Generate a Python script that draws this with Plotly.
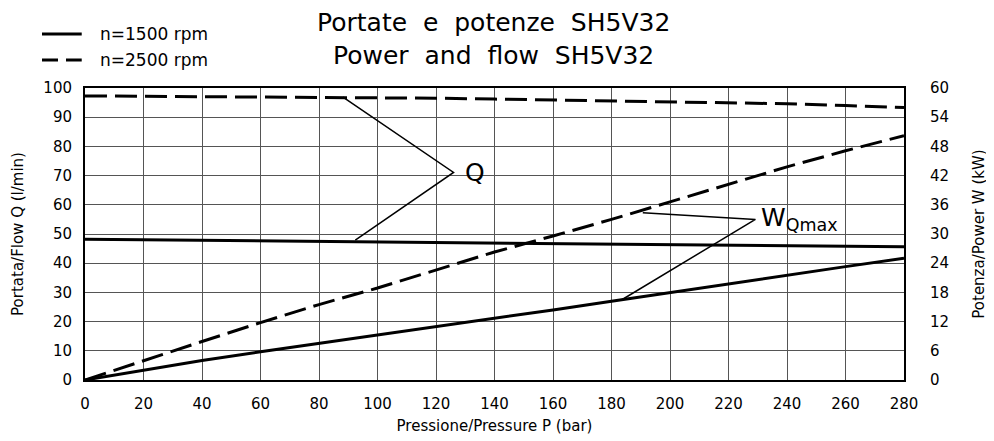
import plotly.graph_objects as go

# ---- data ----
pressure = [0, 20, 40, 60, 80, 100, 120, 140, 160, 180, 200, 220, 240, 260, 280]
q_1500 = [48.2, 48.0, 47.9, 47.7, 47.5, 47.4, 47.2, 47.0, 46.8, 46.6, 46.4, 46.2, 46.0, 45.8, 45.6]
q_2500 = [97.3, 97.2, 97.1, 97.0, 96.9, 96.7, 96.5, 96.2, 95.9, 95.6, 95.3, 95.0, 94.6, 94.0, 93.3]
w_1500 = [0, 2.0, 4.0, 5.8, 7.5, 9.2, 10.9, 12.7, 14.4, 16.2, 18.0, 19.8, 21.6, 23.3, 25.0]
w_2500 = [0, 4.0, 7.9, 11.8, 15.5, 18.9, 22.6, 26.3, 29.6, 33.0, 36.6, 40.2, 43.8, 47.1, 50.2]

x_ticks = list(range(0, 281, 20))
q_ticks = list(range(0, 101, 10))
w_ticks = list(range(0, 61, 6))

title_lines = ["Portate&nbsp; e&nbsp; potenze&nbsp; SH5V32", "Power&nbsp; and&nbsp; flow&nbsp; SH5V32"]
legend_names = ["n=1500 rpm", "n=2500 rpm"]

# annotation leader lines (pressure, flow units)
q_leader_x = [88.2, 126.0, 92.4]
q_leader_y = [96.9, 71.1, 47.9]
w_leader_x = [190.7, 229.2, 183.4]
w_leader_y = [57.3, 55.0, 27.4]

FONT = "DejaVu Sans"
SOLID = dict(color="black", width=3)
DASHED = dict(color="black", width=3, dash="22px,8px")

fig = go.Figure()

fig.add_trace(go.Scatter(x=pressure, y=q_1500, mode="lines", name=legend_names[0], line=SOLID))
fig.add_trace(go.Scatter(x=pressure, y=q_2500, mode="lines", name=legend_names[1], line=DASHED))
fig.add_trace(go.Scatter(x=pressure, y=w_1500, mode="lines", yaxis="y2", name=legend_names[0],
                         line=SOLID))
fig.add_trace(go.Scatter(x=pressure, y=w_2500, mode="lines", yaxis="y2", name=legend_names[1],
                         line=DASHED))
fig.add_trace(go.Scatter(x=q_leader_x, y=q_leader_y, mode="lines",
                         line=dict(color="black", width=1.5)))
fig.add_trace(go.Scatter(x=w_leader_x, y=w_leader_y, mode="lines",
                         line=dict(color="black", width=1.5)))

# white patches interrupting the grid behind the labels
fig.add_shape(type="rect", xref="x", yref="y", x0=112.1, x1=142.9, y0=68.8, y1=71.6,
              fillcolor="white", line=dict(width=0), layer="below")
fig.add_shape(type="rect", xref="x", yref="y", x0=118.6, x1=121.4, y0=60.6, y1=79.6,
              fillcolor="white", line=dict(width=0), layer="below")
fig.add_shape(type="rect", xref="x", yref="y", x0=229.5, x1=263.5, y0=43.5, y1=64.4,
              fillcolor="white", line=dict(width=0), layer="below")

fig.add_annotation(x=133.3, y=71.2, xref="x", yref="y", text="Q", showarrow=False,
                   font=dict(family=FONT, size=25, color="black"))
fig.add_annotation(x=230.5, y=55.1, xref="x", yref="y", text="W<sub>Qmax</sub>",
                   showarrow=False, xanchor="left", yanchor="middle",
                   font=dict(family=FONT, size=25, color="black"))

# title lines
fig.add_annotation(x=0.4988, y=1.226, xref="paper", yref="paper", text=title_lines[0],
                   showarrow=False, xanchor="center", yanchor="middle",
                   font=dict(family=FONT, size=25, color="black"))
fig.add_annotation(x=0.4988, y=1.110, xref="paper", yref="paper", text=title_lines[1],
                   showarrow=False, xanchor="center", yanchor="middle",
                   font=dict(family=FONT, size=25, color="black"))

# hand-drawn legend (top left, outside the plot)
legend_rows_y = [1.185, 1.096]
legend_styles = [dict(color="black", width=3), dict(color="black", width=3, dash="16px,8px")]
for name, ly, st in zip(legend_names, legend_rows_y, legend_styles):
    fig.add_shape(type="line", xref="paper", yref="paper", x0=-0.0525, x1=-0.004,
                  y0=ly, y1=ly, line=st)
    fig.add_annotation(x=0.016, y=ly, xref="paper", yref="paper", text=name,
                       showarrow=False, xanchor="left", yanchor="middle",
                       font=dict(family=FONT, size=17, color="black"))

# the page body adds an 8px offset; margins compensate for it
fig.update_layout(
    width=994, height=441,
    margin=dict(l=77, r=98, t=80, b=69),
    paper_bgcolor="white", plot_bgcolor="white",
    font=dict(family=FONT, size=15, color="black"),
    showlegend=False,
    xaxis=dict(range=[0, 280], tickvals=x_ticks, showgrid=True, gridcolor="#555",
               gridwidth=1, zeroline=False, showline=True, linecolor="black", linewidth=2,
               mirror=True, ticks="outside", ticklen=9, tickcolor="rgba(0,0,0,0)",
               tickfont=dict(size=15), automargin=False,
               title=dict(text="Pressione/Pressure P (bar)", standoff=8,
                          font=dict(size=15))),
    yaxis=dict(range=[0, 100], tickvals=q_ticks, showgrid=True, gridcolor="#555",
               gridwidth=1, zeroline=False, showline=True, linecolor="black", linewidth=2,
               mirror=True, ticks="outside", ticklen=8, tickcolor="rgba(0,0,0,0)",
               tickfont=dict(size=15), automargin=False,
               title=dict(text="Portata/Flow Q (l/min)", standoff=16, font=dict(size=15))),
    yaxis2=dict(range=[0, 60], tickvals=w_ticks, overlaying="y", side="right",
                showgrid=False, zeroline=False, showline=False, ticks="outside",
                ticklen=22, tickcolor="rgba(0,0,0,0)", tickfont=dict(size=15),
                automargin=False,
                title=dict(text="Potenza/Power W (kW)", standoff=25, font=dict(size=15))),
)

fig.write_html("out.html")
